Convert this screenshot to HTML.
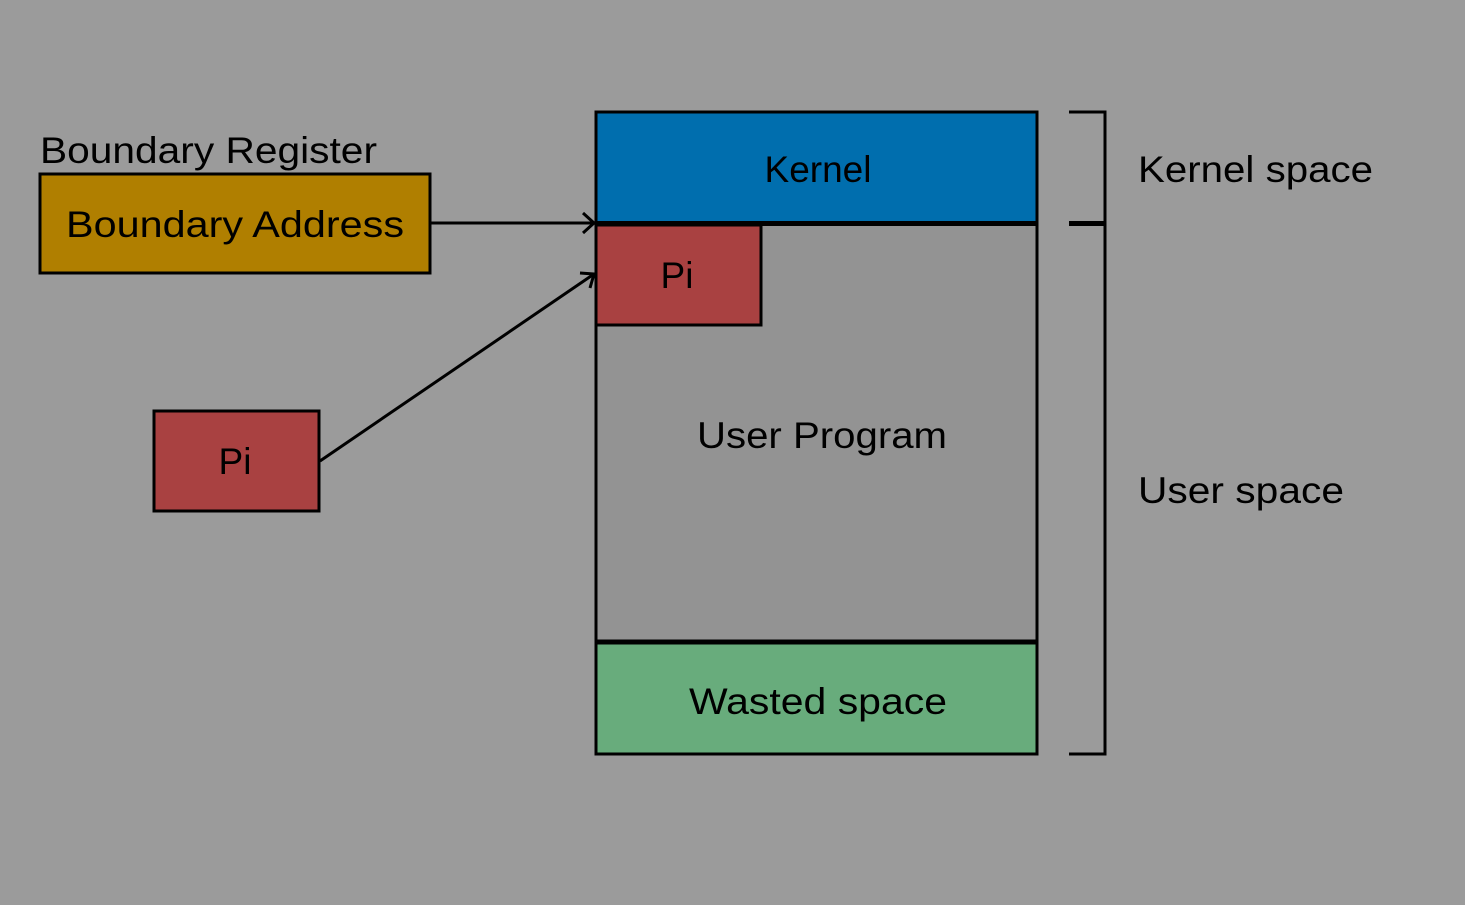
<!DOCTYPE html>
<html><head><meta charset="utf-8"><style>html,body{margin:0;padding:0;background:#9b9b9b}svg{display:block}</style></head><body>
<svg width="1465" height="905" viewBox="0 0 1465 905" xmlns="http://www.w3.org/2000/svg" font-family="Liberation Sans, sans-serif" font-size="37" fill="#000">
<rect width="1465" height="905" fill="#9b9b9b"/>
<rect x="596" y="112" width="441" height="642" fill="#939393" stroke="#000" stroke-width="3"/>
<rect x="596" y="112" width="441" height="111" fill="#006eae" stroke="#000" stroke-width="3"/>
<rect x="596" y="643" width="441" height="111" fill="#68ac7c" stroke="#000" stroke-width="3"/>
<line x1="596" y1="223.5" x2="1037" y2="223.5" stroke="#000" stroke-width="5"/>
<line x1="596" y1="642" x2="1037" y2="642" stroke="#000" stroke-width="5"/>
<rect x="596" y="225" width="165" height="100" fill="#a94141" stroke="#000" stroke-width="3"/>
<rect x="40" y="174" width="390" height="99" fill="#b07f00" stroke="#000" stroke-width="3"/>
<rect x="154" y="411" width="165" height="100" fill="#a94141" stroke="#000" stroke-width="3"/>
<path d="M1069 112H1105V754H1069" fill="none" stroke="#000" stroke-width="3"/>
<line x1="1069" y1="223.5" x2="1105" y2="223.5" stroke="#000" stroke-width="5"/>
<line x1="430" y1="223" x2="594" y2="223" stroke="#000" stroke-width="3"/>
<path d="M583 213L594 223L583 233" fill="none" stroke="#000" stroke-width="3"/>
<line x1="320" y1="461" x2="594" y2="274" stroke="#000" stroke-width="3"/>
<path d="M580 273L594 274L590 288" fill="none" stroke="#000" stroke-width="3"/>
<text x="40" y="163" textLength="337" lengthAdjust="spacingAndGlyphs">Boundary Register</text>
<text x="66" y="237" textLength="338" lengthAdjust="spacingAndGlyphs">Boundary Address</text>
<text x="818" y="182" text-anchor="middle">Kernel</text>
<text x="677" y="288" text-anchor="middle">Pi</text>
<text x="235" y="474" text-anchor="middle">Pi</text>
<text x="697" y="448" textLength="250" lengthAdjust="spacingAndGlyphs">User Program</text>
<text x="689" y="714" textLength="258" lengthAdjust="spacingAndGlyphs">Wasted space</text>
<text x="1138" y="182" textLength="235" lengthAdjust="spacingAndGlyphs">Kernel space</text>
<text x="1138" y="503" textLength="206" lengthAdjust="spacingAndGlyphs">User space</text>
</svg>
</body></html>
